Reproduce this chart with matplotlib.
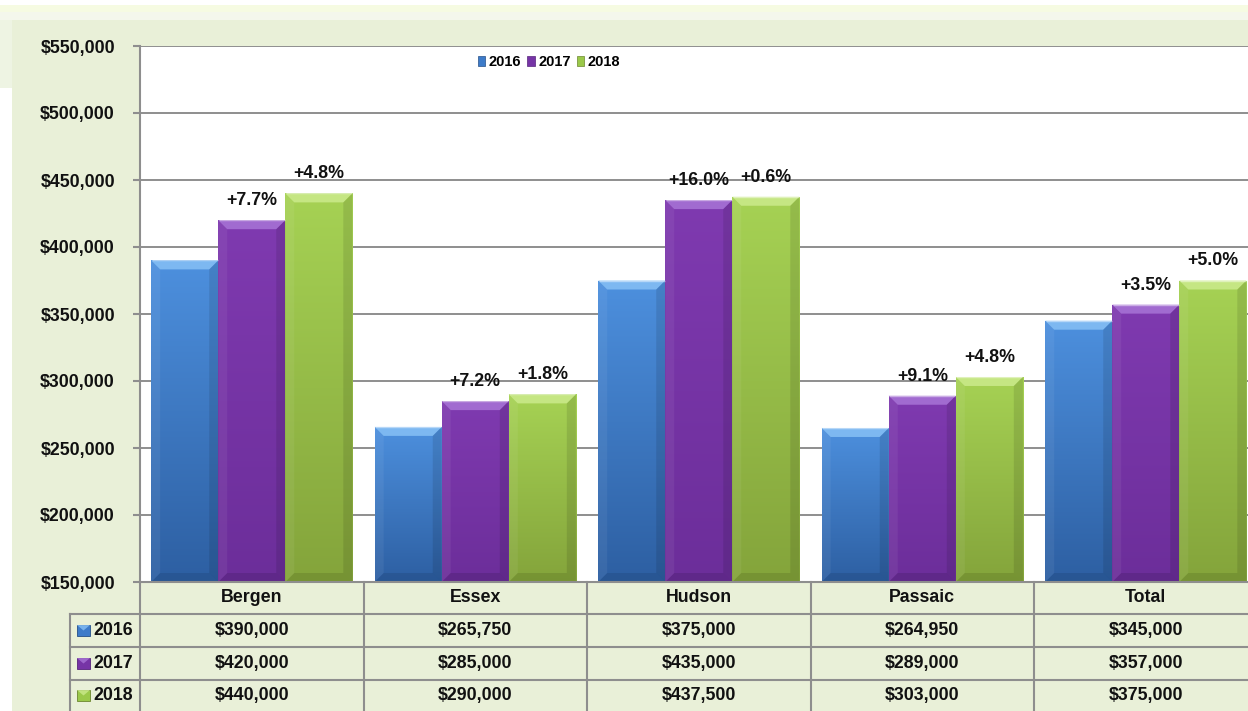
import numpy as np
import matplotlib
matplotlib.use("Agg")
import matplotlib.pyplot as plt
import matplotlib.colors as mcolors
from matplotlib.patches import Rectangle, Polygon
from matplotlib.lines import Line2D
from matplotlib.transforms import blended_transform_factory

# ---- data -------------------------------------------------------------
counties = ["Bergen", "Essex", "Hudson", "Passaic", "Total"]
years = ["2016", "2017", "2018"]
price_2016 = [390000, 265750, 375000, 264950, 345000]
price_2017 = [420000, 285000, 435000, 289000, 357000]
price_2018 = [440000, 290000, 437500, 303000, 375000]
y_ticks = [150000, 200000, 250000, 300000, 350000, 400000, 450000, 500000, 550000]

series = [price_2016, price_2017, price_2018]

# ---- styling ----------------------------------------------------------
FONT = ["Liberation Sans", "DejaVu Sans"]
plt.rcParams["font.family"] = FONT
plt.rcParams["font.weight"] = "bold"
FS = 12.8

# (middle, top, bottom, bevel-light, bevel-dark)
palette = [
    ("#3D7BC9", "#4D90DE", "#2D5FA2", "#86C0F5", "#254F88"),
    ("#7634A6", "#7F3AB0", "#6C2E9A", "#A874D6", "#56247C"),
    ("#9BC94A", "#A6D254", "#84A43B", "#CBEA8C", "#6C862E"),
]
GRID = "#8E8E8E"
PANEL = "#E9F0D8"
TEXT = "#111111"

W, H = 1248, 711
fig = plt.figure(figsize=(W / 100, H / 100), dpi=100, facecolor="white")


def fx(px):
    return px / W


def fy(py):
    return 1 - py / H


# chart panel background
fig.add_artist(Rectangle((fx(12), 0), 1, fy(20), transform=fig.transFigure,
                         facecolor=PANEL, edgecolor="none", zorder=0))
fig.add_artist(Rectangle((0, fy(88)), fx(12), fy(20) - fy(88), transform=fig.transFigure,
                         facecolor="#EEF4E3", edgecolor="none", zorder=0))
fig.add_artist(Rectangle((0, fy(12)), 1, fy(5) - fy(12), transform=fig.transFigure,
                         facecolor="#F6FBE2", edgecolor="none", zorder=0))
fig.add_artist(Rectangle((0, fy(20)), 1, fy(12) - fy(20), transform=fig.transFigure,
                         facecolor="#F4F7EC", edgecolor="none", zorder=0))

# plot area
ax_l, ax_r, ax_t, ax_b = 140, 1257.5, 46, 582
ax = fig.add_axes([fx(ax_l), fy(ax_b), (ax_r - ax_l) / W, (ax_b - ax_t) / H])
ax.set_facecolor("white")

n_cat = len(counties)
x = np.arange(n_cat)
bar_w = 0.3
offsets = [-bar_w, 0.0, bar_w]
ymin, ymax = y_ticks[0], y_ticks[-1]

# bevel sizes converted from pixels to data units
bevel_px = 9
dxb = bevel_px / (ax_r - ax_l) * n_cat
dyb = bevel_px / (ax_b - ax_t) * (ymax - ymin)

for i, (vals, cols) in enumerate(zip(series, palette)):
    base, c_top, c_bot, c_hi, c_lo = cols
    bars = ax.bar(x + offsets[i], vals, width=bar_w, color=base,
                  edgecolor=c_lo, linewidth=0.6, zorder=2, label=years[i])
    for rect in bars:
        x0 = rect.get_x()
        x1 = x0 + rect.get_width()
        y1 = rect.get_y() + rect.get_height()
        y0 = max(rect.get_y(), ymin)
        # vertical shading
        t = np.linspace(0, 1, 256)[:, None]
        cb = np.array(mcolors.to_rgb(c_bot))
        ct = np.array(mcolors.to_rgb(c_top))
        grad = (cb + (ct - cb) * t)[:, None, :]
        im = ax.imshow(grad, extent=[x0, x1, y0, y1], origin="lower",
                       aspect="auto", interpolation="bilinear", zorder=2.1)
        im.set_clip_path(rect)
        # bevelled edges
        top = Polygon([(x0, y1), (x1, y1), (x1 - dxb, y1 - dyb), (x0 + dxb, y1 - dyb)],
                      closed=True, facecolor=c_hi, edgecolor="none", alpha=0.85, zorder=2.2)
        bot = Polygon([(x0, y0), (x1, y0), (x1 - dxb, y0 + dyb), (x0 + dxb, y0 + dyb)],
                      closed=True, facecolor=c_lo, edgecolor="none", alpha=0.55, zorder=2.2)
        left = Polygon([(x0, y0), (x0 + dxb, y0 + dyb), (x0 + dxb, y1 - dyb), (x0, y1)],
                       closed=True, facecolor="white", edgecolor="none", alpha=0.06, zorder=2.2)
        right = Polygon([(x1, y0), (x1 - dxb, y0 + dyb), (x1 - dxb, y1 - dyb), (x1, y1)],
                        closed=True, facecolor="black", edgecolor="none", alpha=0.10, zorder=2.2)
        for p in (top, bot, left, right):
            ax.add_patch(p)
        # crisp bright rim along the top
        ax.plot([x0 + 0.003, x1 - 0.003], [y1, y1], color="white", alpha=0.45,
                lw=1.0, zorder=2.3, solid_capstyle="butt")

# year-over-year change labels
for i in (1, 2):
    for j in range(n_cat):
        cur, prev = series[i][j], series[i - 1][j]
        pct = (cur / prev - 1) * 100
        ax.annotate(f"{pct:+.1f}%", xy=(x[j] + offsets[i], cur), xytext=(0, 8),
                    textcoords="offset points", ha="center", va="bottom",
                    fontsize=FS, fontweight="bold", color=TEXT, zorder=5)

# axes
ax.set_xlim(-0.5, n_cat - 0.5)
ax.set_ylim(ymin, ymax)
ax.set_yticks(y_ticks)
ax.set_yticklabels([f"${v:,.0f}" for v in y_ticks])
ax.set_xticks([])
ax.tick_params(axis="y", length=5, width=1.5, color=GRID, pad=13,
               labelsize=FS, labelcolor=TEXT)
for lab in ax.get_yticklabels():
    lab.set_fontweight("bold")
ax.yaxis.grid(True, color=GRID, linewidth=1.4)
ax.set_axisbelow(True)
for side in ("top", "right"):
    ax.spines[side].set_visible(False)
for side in ("left", "bottom"):
    ax.spines[side].set_color(GRID)
    ax.spines[side].set_linewidth(1.5)

# legend
handles = [Rectangle((0, 0), 1, 1, facecolor=c[0], edgecolor=c[4], linewidth=0.5)
           for c in palette]
leg = ax.legend(handles, years, loc="center", bbox_to_anchor=(0.366, 0.970), ncol=3,
                frameon=False, handlelength=0.5, handleheight=0.75, handletextpad=0.25,
                columnspacing=0.4, prop={"family": FONT, "weight": "bold", "size": 10.5})

# data table below the plot
tr = blended_transform_factory(ax.transData, fig.transFigure)
row_edges = [582, 614, 647, 680, 711]
line_kw = dict(color=GRID, linewidth=1.5, zorder=3, clip_on=False)

# vertical column separators
for k in range(n_cat + 1):
    fig.add_artist(Line2D([k - 0.5, k - 0.5], [fy(582), fy(711)], transform=tr, **line_kw))
# key column
fig.add_artist(Line2D([fx(70), fx(70)], [fy(614), fy(711)], transform=fig.transFigure, **line_kw))
for ry in row_edges[1:4]:
    fig.add_artist(Line2D([fx(70), 1.0], [fy(ry), fy(ry)], transform=fig.transFigure, **line_kw))


def row_center(r):
    return fy((row_edges[r] + row_edges[r + 1]) / 2)


for j, name in enumerate(counties):
    fig.text(x[j], row_center(0), name, transform=tr, ha="center", va="center",
             fontsize=FS, fontweight="bold", color=TEXT)

for i, (vals, cols) in enumerate(zip(series, palette)):
    yc = row_center(i + 1)
    for j in range(n_cat):
        fig.text(x[j], yc, f"${vals[j]:,.0f}", transform=tr, ha="center", va="center",
                 fontsize=FS, fontweight="bold", color=TEXT)
    # legend key in the row header
    kx0, kx1 = fx(77), fx(90)
    ky0, ky1 = yc - 5.5 / H, yc + 5.5 / H
    fig.add_artist(Rectangle((kx0, ky0), kx1 - kx0, ky1 - ky0, transform=fig.transFigure,
                             facecolor=cols[0], edgecolor=cols[4], linewidth=0.6, zorder=4))
    fig.add_artist(Polygon([(kx0, ky1), (kx1, ky1), ((kx0 + kx1) / 2, (ky0 + ky1) / 2)],
                           closed=True, transform=fig.transFigure, facecolor=cols[3],
                           edgecolor="none", alpha=0.8, zorder=4.1))
    fig.text(fx(93), yc, years[i], ha="left", va="center",
             fontsize=FS, fontweight="bold", color=TEXT)

fig.savefig("out.png", dpi=100, facecolor=fig.get_facecolor())
